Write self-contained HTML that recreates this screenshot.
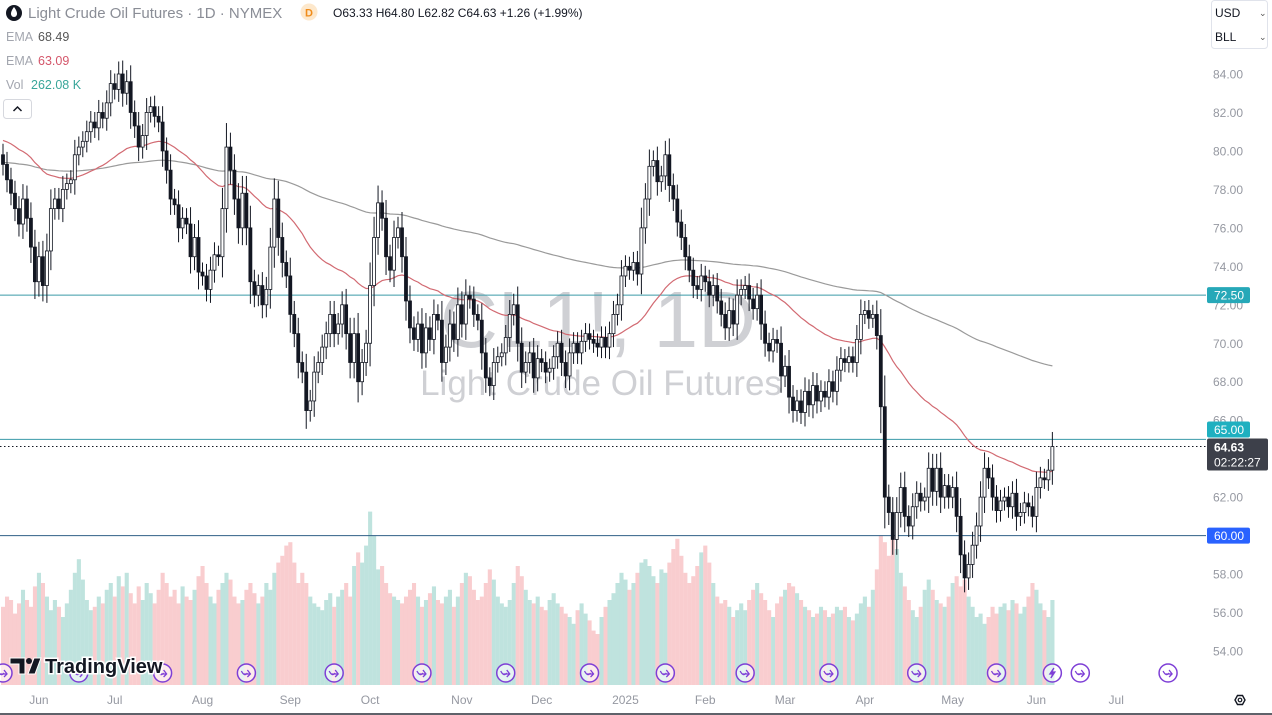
<!DOCTYPE html>
<html><head><meta charset="utf-8"><style>
html,body{margin:0;padding:0;background:#fff;width:1272px;height:715px;overflow:hidden;font-family:"Liberation Sans",sans-serif}
svg{display:block}
</style></head><body>
<svg id="chart" width="1272" height="715" viewBox="0 0 1272 715" xmlns="http://www.w3.org/2000/svg">
<g id="watermark">
<text x="598" y="347" text-anchor="middle" font-size="80" fill="#cfd0d4" font-family="Liberation Sans, sans-serif">CL1!, 1D</text>
<text x="601" y="395" text-anchor="middle" font-size="35" fill="#cfd0d4" font-family="Liberation Sans, sans-serif">Light Crude Oil Futures</text>
</g>
<g id="vol"></g>
<g id="hlines"></g>
<g id="emas"></g>
<g id="candles"></g>
<g id="yaxis"></g>
<g id="xaxis"></g>
<g id="events"></g>
<line x1="0" y1="714" x2="1272" y2="714" stroke="#2a2e39" stroke-width="1.5"/>

<g>
<circle cx="14" cy="13" r="8" fill="#131722"/>
<path d="M14 7 C11 11 11 13 11 14 A3 3 0 0 0 17 14 C17 13 17 11 14 7Z" fill="#fff"/>
<text x="28" y="18" font-size="15" fill="#8a8d96">Light Crude Oil Futures · 1D · NYMEX</text>
<circle cx="309" cy="12" r="8.5" fill="#fde8cc"/>
<text x="309" y="16.5" font-size="11" text-anchor="middle" fill="#f08c1a" font-weight="bold">D</text>
<text x="333" y="17" font-size="12" fill="#131722">O63.33  H64.80  L62.82  C64.63  +1.26 (+1.99%)</text>
<text x="6" y="41" font-size="12.5" fill="#a3a6af">EMA</text>
<text x="38" y="41" font-size="12.5" fill="#555">68.49</text>
<text x="6" y="65" font-size="12.5" fill="#a3a6af">EMA</text>
<text x="38" y="65" font-size="12.5" fill="#d4566a">63.09</text>
<text x="6" y="89" font-size="12.5" fill="#a3a6af">Vol</text>
<text x="31" y="89" font-size="12.5" fill="#3aa69a">262.08 K</text>
<rect x="3.5" y="99.5" width="28" height="19" rx="3" fill="#fff" stroke="#d6d8de"/>
<path d="M13.5 111 L17.5 107 L21.5 111" fill="none" stroke="#131722" stroke-width="1.5"/>
</g>
<g>
<rect x="1211.5" y="0.5" width="56" height="48" rx="3" fill="#fff" stroke="#e0e3eb"/>
<text x="1215" y="17" font-size="12" fill="#131722">USD</text>
<text x="1259" y="16" font-size="9" fill="#555">⌄</text>
<text x="1215" y="41" font-size="12" fill="#131722">BLL</text>
<text x="1259" y="40" font-size="9" fill="#555">⌄</text>
</g>
<g>
<path d="M10 658 H25 V674 H19 V664 H10Z" fill="#131722" stroke="#fff" stroke-width="1"/>
<circle cx="29" cy="661" r="3" fill="#131722"/>
<path d="M34 658 H41 L35 674 H28Z" fill="#131722" stroke="#fff" stroke-width="1"/>
<text x="45" y="673" font-size="20" font-weight="bold" fill="#131722" stroke="#fff" stroke-width="3" paint-order="stroke">TradingView</text>
</g>
<g>
<path d="M1235 700 L1237.5 695.5 L1242.5 695.5 L1245 700 L1242.5 704.5 L1237.5 704.5Z" fill="none" stroke="#131722" stroke-width="1.4"/>
<circle cx="1240" cy="700" r="1.8" fill="none" stroke="#131722" stroke-width="1.2"/>
</g>
</svg>
<script>
const closes = [
79.3,78.5,77.8,77.0,76.2,77.5,76.5,75.0,73.2,74.5,
73.0,74.8,77.0,77.5,77.0,78.0,78.3,78.5,79.8,80.2,
80.5,81.0,81.5,81.2,82.0,81.7,82.5,83.5,83.2,84.0,
83.0,83.6,82.0,81.3,80.2,80.8,82.0,82.3,81.8,81.5,
80.0,79.0,77.5,77.2,76.0,76.5,76.2,74.5,75.5,73.7,
73.5,72.8,73.8,74.6,74.5,77.0,80.2,79.0,77.5,76.0,
77.8,76.0,73.2,72.5,73.0,72.0,72.8,75.0,77.5,75.5,
74.2,73.5,71.5,70.5,69.0,68.5,66.5,67.0,68.5,69.0,
69.8,70.5,71.5,70.5,71.0,72.0,70.5,69.0,70.5,68.0,
69.0,70.0,73.0,75.5,77.3,76.5,74.5,73.8,75.5,76.0,
74.5,72.2,70.8,70.2,71.0,69.5,70.8,70.2,71.5,71.2,
69.0,69.8,71.0,70.2,72.0,71.0,72.5,72.3,71.5,71.2,
69.5,68.2,67.8,69.0,69.3,69.5,70.3,71.5,72.0,70.0,
68.5,69.0,69.5,68.2,69.2,69.0,68.5,68.7,69.3,70.0,
69.0,68.3,69.5,70.0,69.5,70.1,70.5,70.2,70.0,69.8,
70.3,69.8,70.5,71.5,72.0,73.5,74.0,73.8,74.2,73.6,
76.0,77.5,79.2,79.5,78.4,78.7,79.8,78.2,77.5,76.3,
75.5,74.5,73.8,73.0,72.8,73.5,73.2,72.5,73.0,72.2,
71.5,70.8,71.7,71.0,72.5,72.8,73.0,72.3,71.8,72.5,
71.0,70.0,69.6,70.2,70.0,68.3,68.8,67.2,66.5,67.0,
66.4,67.5,66.8,67.8,67.0,67.5,67.2,68.0,67.5,68.6,
69.2,69.0,69.3,69.0,70.2,71.5,71.7,71.3,71.5,70.4,
66.7,62.0,61.2,59.8,61.2,62.5,61.0,60.5,61.5,62.2,
61.8,62.0,63.5,62.3,63.5,62.0,62.6,62.0,62.5,61.0,
59.0,57.8,58.5,59.5,60.5,62.0,63.5,63.0,62.0,61.3,
61.8,62.0,61.5,62.2,61.0,61.2,61.7,61.5,61.0,62.5,
63.0,62.9,63.4,64.63
];
const volumes = [
230,260,250,210,240,280,250,230,290,330,
300,260,220,250,230,200,240,280,330,370,
310,250,220,230,260,240,280,300,260,320,
290,330,270,240,290,250,300,270,240,280,
330,300,260,280,240,290,260,250,280,320,
350,300,260,240,280,300,330,310,260,240,
250,280,300,270,240,260,300,280,330,360,
380,410,420,360,300,330,300,260,240,230,
220,250,270,230,260,280,300,260,350,390,
360,410,510,440,340,350,300,270,260,250,
240,260,280,300,260,230,250,270,290,250,
240,260,280,230,260,300,330,320,280,250,
260,300,340,310,260,240,230,250,300,350,
320,280,250,240,260,230,220,250,270,240,
230,210,200,180,220,240,210,190,160,150,
200,230,250,270,300,330,310,280,300,330,
360,370,350,320,300,340,330,360,400,430,
380,330,300,320,350,390,410,360,300,260,
240,250,230,200,220,240,220,250,280,300,
270,250,220,200,240,260,280,300,290,270,
250,230,220,200,210,230,220,200,210,230,
220,230,200,190,210,240,260,230,280,340,
440,420,380,440,400,330,290,250,220,200,
230,280,310,280,250,240,230,260,300,320,
290,310,260,230,200,210,180,200,230,210,
230,240,220,250,240,210,230,260,300,280,
240,220,200,250
];
const priceTicks = [84,82,80,78,76,74,72,70,68,66,64,62,60,58,56,54];
const levels = [72.5,65.0,60.0];
const monthLabels = ["Jun","Jul","Aug","Sep","Oct","Nov","Dec","2025","Feb","Mar","Apr","May","Jun","Jul"];
const monthIndex = [9,28,50,72,92,115,135,156,176,196,216,238,259,279];
const eventIndex = [0,19,40,61,83,105,126,147,166,186,207,229,249,263,270,292];

const NS="http://www.w3.org/2000/svg";
function yP(p){return 74+(84-p)*19.233;}
function xI(i){return 3+i*3.99;}
function yV(v){return 685-v*0.34;}
function mk(tag,attrs,parent){const e=document.createElementNS(NS,tag);for(const k in attrs)e.setAttribute(k,attrs[k]);parent.appendChild(e);return e;}

const opens = closes.map((c,i)=> i===0?79.8:closes[i-1]);
const vg=document.getElementById('vol');
volumes.forEach((v,i)=>{
  const up=closes[i]>=opens[i];
  const r=mk('rect',{x:xI(i)-2,y:yV(v),width:4.1,height:685-yV(v),fill:up?'#bfe3de':'#f9cdcf'},vg);
  
  
});
const hg=document.getElementById('hlines');
levels.forEach((p,k)=>{
  const l=mk('line',{x1:0,x2:1206,y1:yP(p),y2:yP(p),stroke:k===2?'#2f5f86':'#3a9aa8','stroke-width':1},hg);
  
  
});
const last=closes[closes.length-1];
const dl=mk('line',{x1:0,x2:1206,y1:yP(last),y2:yP(last),stroke:'#131722','stroke-width':1,'stroke-dasharray':'1.5 2.5'},hg);


function ema(n,seed){const a=2/(n+1);let e=seed;return closes.map(c=>(e=e+a*(c-e)));}
const eg=document.getElementById('emas');
[[ema(200,79.4),'#9a9a9a','ema200-line'],[ema(50,80.6),'#d26a72','ema50-line']].forEach(([arr,col,nm])=>{
  const d=arr.map((v,i)=>(i?'L':'M')+xI(i).toFixed(1)+' '+yP(v).toFixed(1)).join(' ');
  const p=mk('path',{d:d,fill:'none',stroke:col,'stroke-width':1.2},eg);
  
  
});
const cg=document.getElementById('candles');
closes.forEach((c,i)=>{
  const o=opens[i];const up=c>=o;
  const w=0.45+Math.abs(c-o)*0.25;
  const hi=Math.max(o,c)+w, lo=Math.min(o,c)-w;
  const x=xI(i);
  const wk=mk('line',{x1:x,x2:x,y1:yP(hi),y2:yP(lo),stroke:'#131722','stroke-width':1},cg);
  
  
  const top=yP(Math.max(o,c)),bh=Math.max(1,yP(Math.min(o,c))-top);
  const b=mk('rect',{x:x-1.5,y:top,width:3,height:bh,fill:up?'#fff':'#131722',stroke:'#131722','stroke-width':0.8},cg);
  
  
});
const yg=document.getElementById('yaxis');
priceTicks.forEach(p=>{
  const t=mk('text',{x:1213,y:yP(p)+4.5,'font-size':12,fill:'#9598a1'},yg);
  t.textContent=p.toFixed(2);
  
  
});
function tag(y,bg,txt,nm){
  const r=mk('rect',{x:1207,y:y-8,width:43,height:16,rx:2,fill:bg},yg);
  
  
  const t=mk('text',{x:1214,y:y+4.5,'font-size':12,fill:'#fff'},yg);
  t.textContent=txt;
  
  
}
tag(yP(levels[0]),'#26a8b8',levels[0].toFixed(2),'level-tag-72');
tag(Math.min(yP(levels[1]),yP(last)-17),'#1fb0c0',levels[1].toFixed(2),'level-tag-65');
tag(yP(levels[2]),'#2962ff',levels[2].toFixed(2),'level-tag-60');
{
  const y=yP(last);
  const r=mk('rect',{x:1207,y:y-8,width:61,height:32,rx:2,fill:'#3d404a'},yg);
  
  
  const t=mk('text',{x:1214,y:y+5,'font-size':12,fill:'#fff','font-weight':'bold'},yg);
  t.textContent=last.toFixed(2);
  
  
  const t2=mk('text',{x:1214,y:y+20,'font-size':12,fill:'#fff'},yg);
  t2.textContent='02:22:27';
  
  
}
const xg=document.getElementById('xaxis');
monthLabels.forEach((m,k)=>{
  const t=mk('text',{x:xI(monthIndex[k]),y:704,'font-size':12,fill:'#9598a1','text-anchor':'middle'},xg);
  t.textContent=m;
  
  
});
const evg=document.getElementById('events');
eventIndex.forEach((ix,k)=>{
  const x=xI(ix),y=673;
  const c=mk('circle',{cx:x,cy:y,r:9,fill:'#fff','fill-opacity':0.6,stroke:'#7e3fd6','stroke-width':1.5},evg);
  
  
  const d= k===13 ? `M${x+1.5} ${y-5} L${x-2.5} ${y+1} L${x+0.5} ${y+1} L${x-1.5} ${y+5} L${x+2.5} ${y-1} L${x-0.5} ${y-1}Z`
                  : `M${x-5} ${y-2} Q${x-2} ${y+4} ${x+1} ${y} M${x-3} ${y+1} L${x+4} ${y+1} M${x+1} ${y-3} L${x+4} ${y+1} L${x+1} ${y+4}`;
  const p=mk('path',{d:d,fill:k===13?'#7e3fd6':'none',stroke:'#7e3fd6','stroke-width':1.3},evg);
  
  
});
</script>
</body></html>
